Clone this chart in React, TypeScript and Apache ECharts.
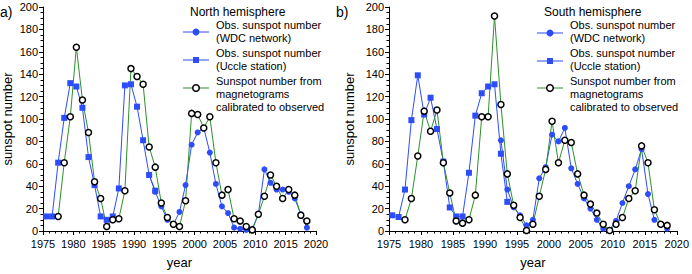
import React, { useEffect, useRef } from "react";
import * as echarts from "echarts";

const northUccleYears = [1975,1976,1977,1978,1979,1980,1981,1982,1983,1984,1985,1986,1987,1988,1989,1990,1991,1992,1993];
const northUccle = [13,13,61,101,132,129,110,66,41,13,10,13,38,130,131,111,81,50,36];
const northWdcYears = [1992,1993,1994,1995,1996,1997,1998,1999,2000,2001,2002,2003,2004,2005,2006,2007,2008,2009,2010,2011,2012,2013,2014,2015,2016,2017,2018];
const northWdc = [50,35,22,10,6,17,41,77,88,92,70,42,22,16,3,2,1,2,15,55,43,37,37,35,29,15,3];
const magYears = [1977,1978,1979,1980,1981,1982,1983,1984,1985,1986,1987,1988,1989,1990,1991,1992,1993,1994,1995,1996,1997,1998,1999,2000,2001,2002,2003,2004,2005,2006,2007,2008,2009,2010,2011,2012,2013,2014,2015,2016,2017,2018];
const northMag = [13,61,102,164,117,88,44,29,4,10,11,36,145,138,131,75,57,25,12,6,4,27,105,104,92,102,61,32,37,11,9,4,1,15,31,50,40,29,37,32,14,9];

const southUccleYears = northUccleYears;
const southUccle = [14,12.5,37,99,139,104,119,91,62,21,13,13,52,103,123,129,131,69,26];
const southWdcYears = northWdcYears;
const southWdc = [81,37,21,14,5,10,47,57,86,80,92,56,42,29,20,10,2,1,9,25,40,55,73,33,10,6,2];
const southMag = [10,29,67,107,89,108,61,34,9,7,10,32,102,102,192,113,51,23,12,0.5,6,31,55,98,61,81,79,51,32,24,16,6,0.5,6,12,29,36,76,61,19,6,5];

const xTicks = { min: 1975, max: 2020, interval: 5 };
const yTicks = { min: 0, max: 200, interval: 20 };
const legendLabels = [
  ["Obs. sunspot number", "(WDC network)"],
  ["Obs. sunspot number", "(Uccle station)"],
  ["Sunspot number from", "magnetograms", "calibrated to observed"],
];

const BLUE = "#2d4dfb";
const GREEN = "#2f8f2f";
const FONT = "'Liberation Sans', Arial, sans-serif";

const pairs = (years: number[], vals: number[]) => years.map((y, i) => [y + 0.5, vals[i]]);

function xAxis(gridIndex: number) {
  return {
    type: "value", gridIndex, min: xTicks.min, max: xTicks.max, interval: xTicks.interval,
    name: "year", nameLocation: "middle", nameGap: 25,
    nameTextStyle: { fontFamily: FONT, fontSize: 13, color: "#000" },
    axisLine: { show: true, onZero: false, lineStyle: { color: "#000", width: 1 } },
    axisTick: { show: true, inside: false, length: 4, lineStyle: { color: "#000" } },
    minorTick: { show: true, splitNumber: 5, length: 2.5, lineStyle: { color: "#000" } },
    splitLine: { show: false },
    axisLabel: { fontFamily: FONT, fontSize: 11, color: "#000", margin: 7, formatter: (v: number) => String(v) },
  };
}
function yAxis(gridIndex: number, gap: number) {
  return {
    type: "value", gridIndex, min: yTicks.min, max: yTicks.max, interval: yTicks.interval,
    name: "sunspot number", nameLocation: "middle", nameGap: gap, nameRotate: 90,
    nameTextStyle: { fontFamily: FONT, fontSize: 13, color: "#000" },
    axisLine: { show: true, lineStyle: { color: "#000", width: 1 } },
    axisTick: { show: true, inside: false, length: 4, lineStyle: { color: "#000" } },
    minorTick: { show: true, splitNumber: 4, length: 2.5, lineStyle: { color: "#000" } },
    splitLine: { show: false },
    axisLabel: { fontFamily: FONT, fontSize: 11, color: "#000", margin: 5 },
  };
}

function seriesFor(idx: number, uy: number[], u: number[], wy: number[], w: number[], my: number[], m: number[]) {
  return [
    {
      type: "line", xAxisIndex: idx, yAxisIndex: idx, data: pairs(uy, u), clip: false,
      symbol: "rect", symbolSize: 6, showAllSymbol: true,
      lineStyle: { color: BLUE, width: 1 }, itemStyle: { color: BLUE },
    },
    {
      type: "line", xAxisIndex: idx, yAxisIndex: idx, data: pairs(wy, w), clip: false,
      symbol: "circle", symbolSize: 6, showAllSymbol: true,
      lineStyle: { color: BLUE, width: 1 }, itemStyle: { color: BLUE },
    },
    {
      type: "line", xAxisIndex: idx, yAxisIndex: idx, data: pairs(my, m), clip: false,
      symbol: "circle", symbolSize: 6, showAllSymbol: true,
      lineStyle: { color: GREEN, width: 1 },
      itemStyle: { color: "#fff", borderColor: "#000", borderWidth: 1.5 },
    },
  ];
}

function legendGraphic(x0: number, title: string, rows: number[]) {
  const els: any[] = [];
  els.push({ type: "text", x: x0 + 7, y: 12, style: { text: title, font: `12px ${FONT}`, fill: "#000", verticalAlign: "middle" } });
  const lx1 = x0, lx2 = x0 + 26, mx = x0 + 13, tx = x0 + 33;
  const textY = [[25, 38], [53, 66], [81, 94, 107]];
  const colors = [BLUE, BLUE, GREEN];
  rows.forEach((ly, i) => {
    els.push({ type: "line", shape: { x1: lx1, y1: ly, x2: lx2, y2: ly }, style: { stroke: colors[i], lineWidth: 1 } });
    if (i === 0) els.push({ type: "circle", shape: { cx: mx, cy: ly, r: 3.5 }, style: { fill: BLUE } });
    if (i === 1) els.push({ type: "rect", shape: { x: mx - 3, y: ly - 3, width: 6, height: 6 }, style: { fill: BLUE } });
    if (i === 2) els.push({ type: "circle", shape: { cx: mx, cy: ly, r: 3.3 }, style: { fill: "#fff", stroke: "#000", lineWidth: 1.5 } });
    legendLabels[i].forEach((t, j) => {
      els.push({ type: "text", x: tx, y: textY[i][j], style: { text: t, font: `11px ${FONT}`, fill: "#000", verticalAlign: "middle" } });
    });
  });
  return els;
}

export default function App() {
  const ref = useRef<HTMLDivElement>(null);
  useEffect(() => {
    if (!ref.current) return;
    const chart = echarts.init(ref.current, undefined, { renderer: "svg" });
    chart.setOption({
      animation: false,
      backgroundColor: "#fff",
      grid: [
        { left: 42, top: 7, width: 274, height: 233 },
        { left: 389, top: 7, width: 289, height: 233 },
      ],
      xAxis: [xAxis(0), xAxis(1)],
      yAxis: [yAxis(0, 29), yAxis(1, 33)],
      series: [
        ...seriesFor(0, northUccleYears, northUccle, northWdcYears, northWdc, magYears, northMag),
        ...seriesFor(1, southUccleYears, southUccle, southWdcYears, southWdc, magYears, southMag),
      ],
      graphic: [
        { type: "text", x: 0, y: 12, style: { text: "a)", font: `14px ${FONT}`, fill: "#000", verticalAlign: "middle" } },
        { type: "text", x: 336, y: 12, style: { text: "b)", font: `14px ${FONT}`, fill: "#000", verticalAlign: "middle" } },
        ...legendGraphic(183, "North hemisphere", [32, 60, 88]),
        ...legendGraphic(537, "South hemisphere", [33, 61, 88]),
      ],
    });
    return () => chart.dispose();
  }, []);
  return <div ref={ref} style={{ position: "fixed", left: 0, top: 0, width: 692, height: 274 }} />;
}
